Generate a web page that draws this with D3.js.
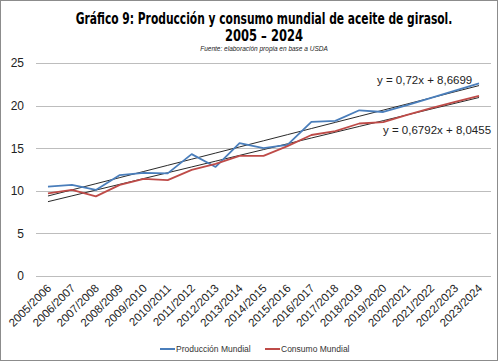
<!DOCTYPE html>
<head>
<meta charset="utf-8">
<script src="https://d3js.org/d3.v7.min.js"></script>
<style>
  body { margin: 0; background: #fff; }
  text { font-family: "Liberation Sans", Arial, sans-serif; fill: #222; }
  .title { font-family: "DejaVu Sans Condensed", "DejaVu Sans", sans-serif; font-weight: bold; font-stretch: condensed; fill: #000; }
  .grid line { stroke: #bdbdbd; stroke-width: 1; shape-rendering: crispEdges; }
  .axis path.domain, .axis line { display: none; }
</style>
</head>
<body>
<div id="chart"></div>
<script>
// data, in millions of tonnes
var campaigns = ["2005/2006","2006/2007","2007/2008","2008/2009","2009/2010","2010/2011","2011/2012",
  "2012/2013","2013/2014","2014/2015","2015/2016","2016/2017","2017/2018","2018/2019","2019/2020",
  "2020/2021","2021/2022","2022/2023","2023/2024"];
var produccion = [10.5, 10.7, 10.1, 11.85, 12.1, 12.05, 14.3, 12.8, 15.6, 15.0, 15.4, 18.1, 18.2, 19.45, 19.25, 20.05, 20.9, 21.75, 22.6];
var consumo = [9.7, 10.1, 9.35, 10.7, 11.4, 11.25, 12.45, 13.15, 14.1, 14.1, 15.25, 16.55, 17.0, 17.9, 18.05, 18.9, 19.7, 20.45, 21.15];
var yTicks = [0, 5, 10, 15, 20, 25];
// trend lines y = a*x + b (x = 1..19)
var trendProd = { a: 0.72, b: 8.6699, label: "y = 0,72x + 8,6699" };
var trendCons = { a: 0.6792, b: 8.0455, label: "y = 0,6792x + 8,0455" };
var seriesNames = ["Producción Mundial", "Consumo Mundial"];
var seriesColors = ["#4a7ebb", "#be4b48"];

var W = 500, H = 362;
var margin = { top: 63, right: 9, bottom: 86, left: 36 };

var svg = d3.select("#chart").append("svg")
  .attr("width", W).attr("height", H);

svg.append("rect")
  .attr("x", 0.5).attr("y", 0.5)
  .attr("width", W - 3).attr("height", H - 2)
  .attr("fill", "#fff").attr("stroke", "#8c8c8c");

// titles: squeezed horizontally to match the condensed face of the original
function squeezedTitle(str, yPos, width) {
  var g = svg.append("g");
  var t = g.append("text").attr("class", "title")
    .attr("x", 0).attr("y", 0)
    .attr("text-anchor", "middle")
    .attr("font-size", 15)
    .text(str);
  var w = t.node().getComputedTextLength();
  g.attr("transform", `translate(264,${yPos}) scale(${width / w},1)`);
}
squeezedTitle("Gráfico 9: Producción y consumo mundial de aceite de girasol.", 24, 377);
squeezedTitle("2005 – 2024", 41, 78);

svg.append("text")
  .attr("x", 264).attr("y", 50.5)
  .attr("text-anchor", "middle")
  .attr("font-size", 6.5)
  .attr("font-style", "italic")
  .text("Fuente:  elaboración propia en base a USDA");

var x = d3.scaleBand()
  .domain(campaigns)
  .range([margin.left, W - margin.right]);

var y = d3.scaleLinear()
  .domain([0, 25])
  .range([H - margin.bottom, margin.top]);

// grid
svg.append("g").attr("class", "grid")
  .selectAll("line").data(yTicks).enter().append("line")
  .attr("x1", margin.left).attr("x2", W - margin.right)
  .attr("y1", d => Math.round(y(d)) + 0.5).attr("y2", d => Math.round(y(d)) + 0.5);

// y axis
svg.append("g").attr("class", "axis")
  .attr("transform", `translate(${margin.left - 12},0)`)
  .call(d3.axisLeft(y).tickValues(yTicks).tickSize(0).tickPadding(0))
  .selectAll("text")
  .attr("font-size", 12)
  .style("font-family", "Liberation Sans, Arial, sans-serif")
  .style("fill", "#222");

// x axis
svg.append("g").attr("class", "axis")
  .attr("transform", `translate(0,${H - margin.bottom})`)
  .call(d3.axisBottom(x).tickSize(0).tickPadding(0))
  .selectAll("text")
  .attr("font-size", 11.5)
  .style("font-family", "Liberation Sans, Arial, sans-serif")
  .style("fill", "#222")
  .attr("text-anchor", "end")
  .attr("dy", 0)
  .attr("transform", "translate(4,13) rotate(-45)");

var cx = d => x(d) + x.bandwidth() / 2;

var line = d3.line()
  .x((d, i) => cx(campaigns[i]))
  .y(d => y(d));

// trend lines
[trendProd, trendCons].forEach(function(t) {
  var pts = campaigns.map((c, i) => t.a * (i + 1) + t.b);
  svg.append("path")
    .attr("d", line(pts))
    .attr("fill", "none")
    .attr("stroke", "#111")
    .attr("stroke-width", 0.9);
});

// series
[produccion, consumo].forEach(function(s, k) {
  svg.append("path")
    .attr("d", line(s))
    .attr("fill", "none")
    .attr("stroke", seriesColors[k])
    .attr("stroke-width", 1.8)
    .attr("stroke-linejoin", "round");
});

// trend labels
svg.append("text")
  .attr("x", 377).attr("y", 84)
  .attr("font-size", 11.5)
  .text(trendProd.label);
svg.append("text")
  .attr("x", 383).attr("y", 134)
  .attr("font-size", 11.5)
  .text(trendCons.label);

// legend
var legendX = [160, 265];
var legend = svg.append("g");
seriesNames.forEach(function(name, k) {
  legend.append("line")
    .attr("x1", legendX[k]).attr("x2", legendX[k] + 15)
    .attr("y1", 349).attr("y2", 349)
    .attr("stroke", seriesColors[k])
    .attr("stroke-width", 2);
  legend.append("text")
    .attr("x", legendX[k] + 16).attr("y", 352)
    .attr("font-size", 8.5)
    .style("fill", "#333")
    .text(name);
});
</script>
</body>
